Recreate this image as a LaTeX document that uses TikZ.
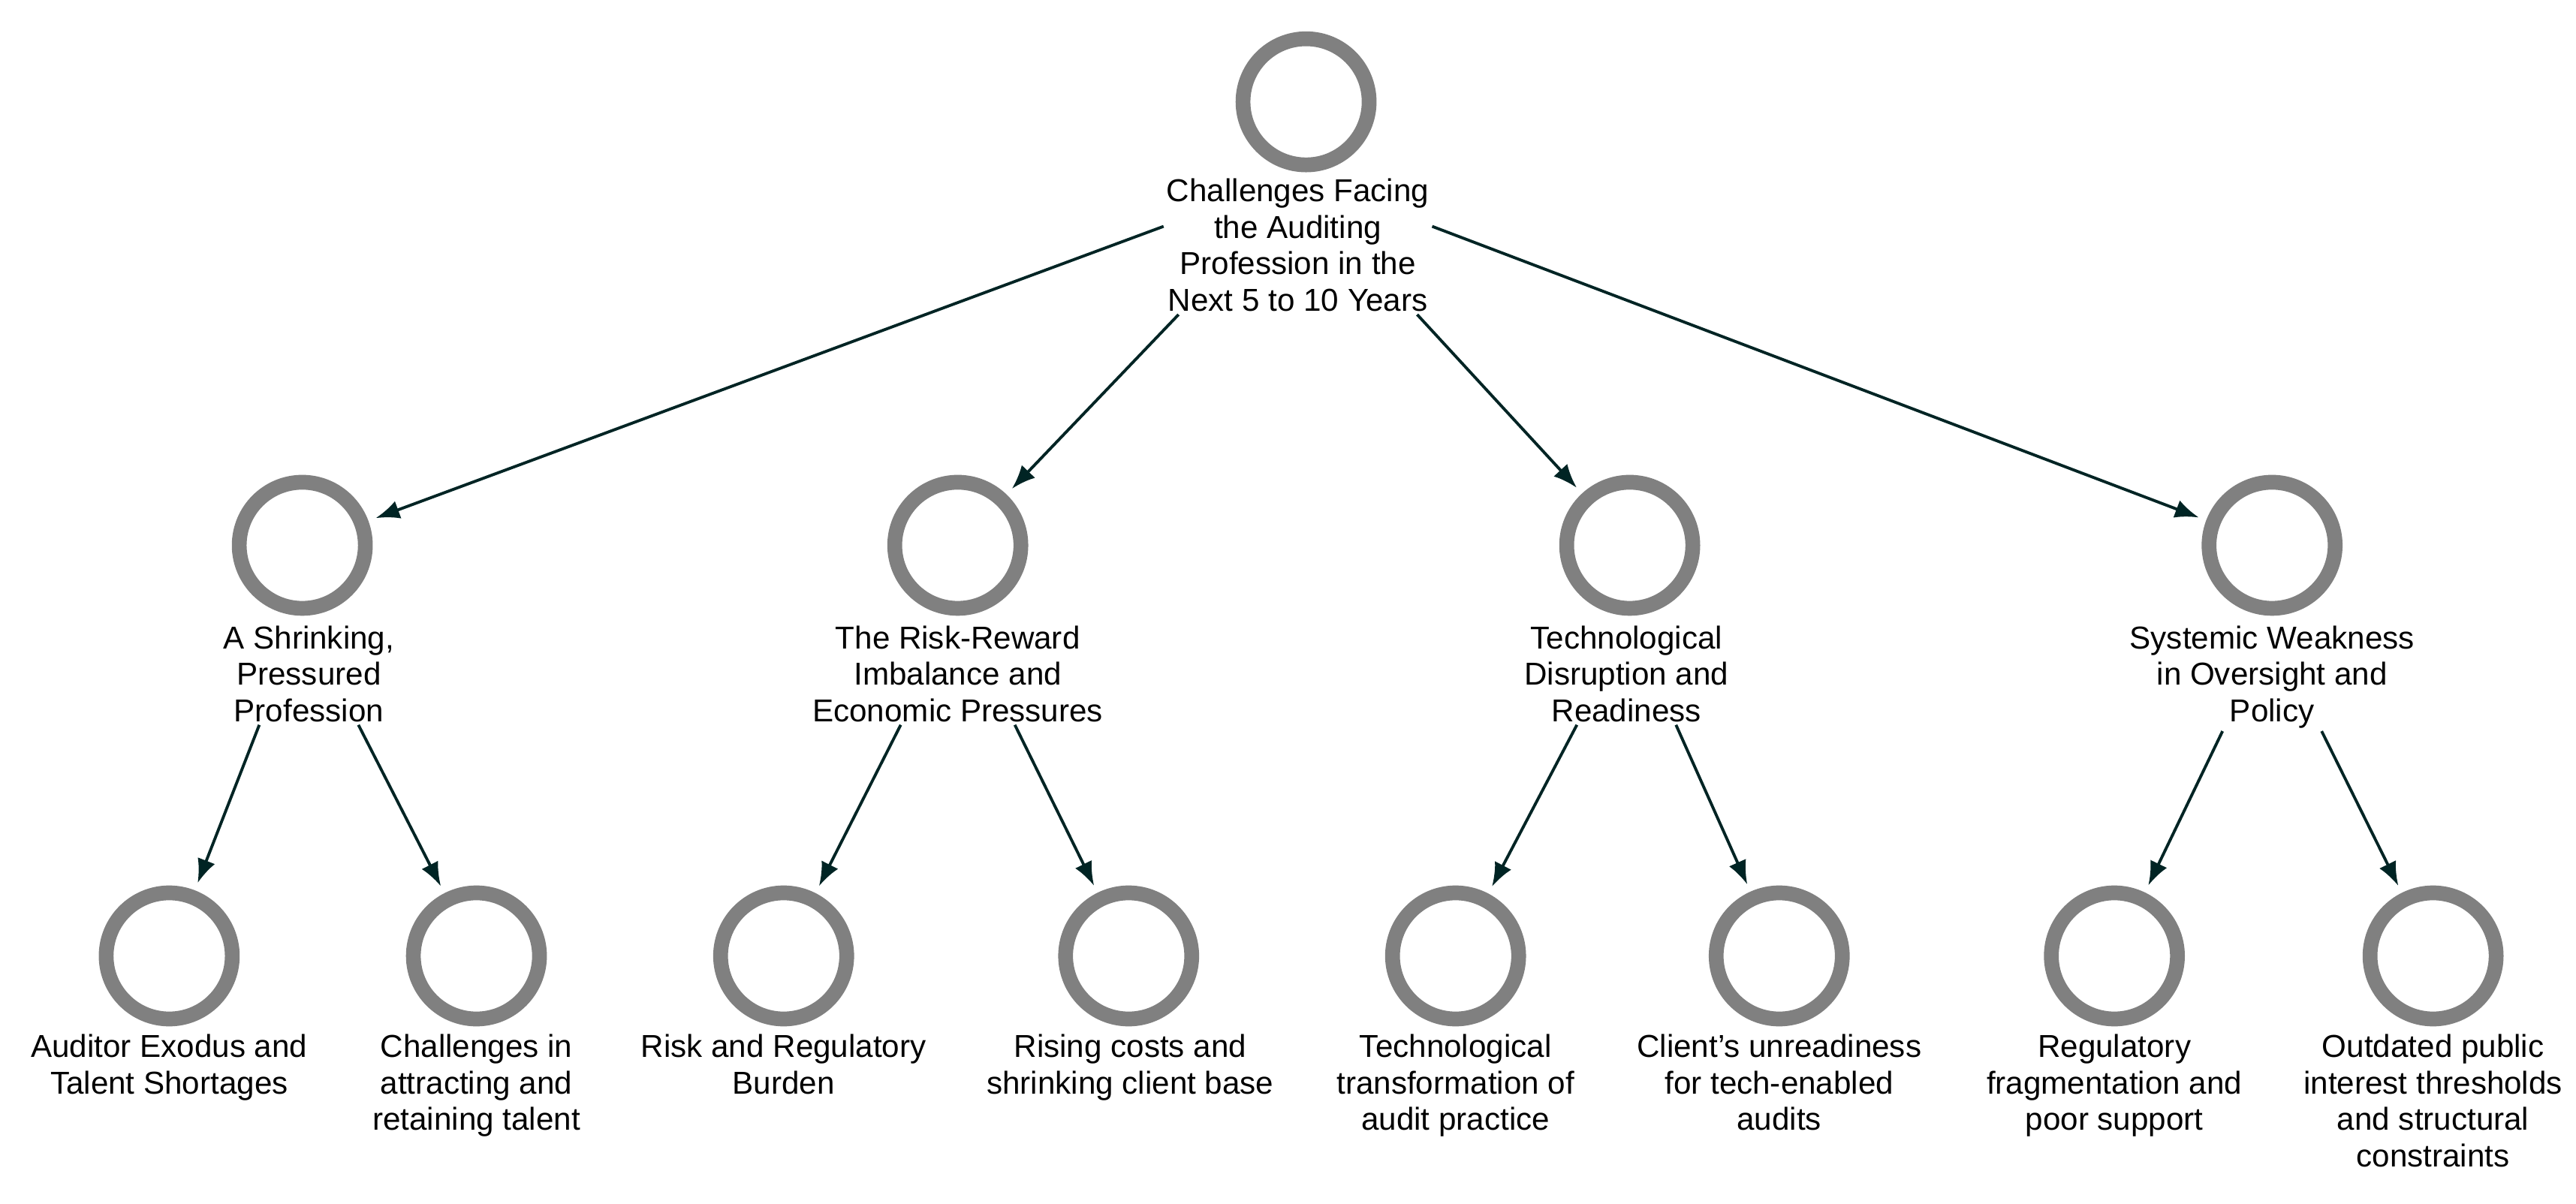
\documentclass[tikz,border=0pt]{standalone}
\usepackage{fontspec}
\setmainfont{Liberation Sans}
\usetikzlibrary{arrows.meta,calc}
\begin{document}
\begin{tikzpicture}[x=0.02188cm,y=-0.02188cm,
  ring/.style={circle,draw=black!50,line width=0.197cm,minimum size=1.68cm,inner sep=0pt},
  lbl/.style={align=center,anchor=north,inner sep=1pt,font=\fontsize{12}{13.8}\selectfont},
  arr/.style={draw=black!60!teal!70!black,color=black!60!teal!70!black,line width=1.1pt,-{Latex[length=9pt,width=7pt]},shorten >=3pt}]
\useasboundingbox (0,0) rectangle (1568,733);
\node[ring] (r) at (795,62) {};
\node[lbl] (rt) at (790,107) {Challenges Facing\\the Auditing\\Profession in the\\Next 5 to 10 Years};

\node[ring] (a) at (184,332) {};
\node[lbl] (at) at (188,379) {A Shrinking,\\Pressured\\Profession};
\node[ring] (b) at (583,332) {};
\node[lbl] (bt) at (583,379) {The Risk-Reward\\Imbalance and\\Economic Pressures};
\node[ring] (c) at (992,332) {};
\node[lbl] (ct) at (990,379) {Technological\\Disruption and\\Readiness};
\node[ring] (d) at (1383,332) {};
\node[lbl] (dt) at (1383,379) {Systemic Weakness\\in Oversight and\\Policy};

\node[ring] (a1) at (103,582) {};
\node[lbl] (a1t) at (103,628) {Auditor Exodus and\\Talent Shortages};
\node[ring] (a2) at (290,582) {};
\node[lbl] (a2t) at (290,628) {Challenges in\\attracting and\\retaining talent};
\node[ring] (b1) at (477,582) {};
\node[lbl] (b1t) at (477,628) {Risk and Regulatory\\Burden};
\node[ring] (b2) at (687,582) {};
\node[lbl] (b2t) at (688,628) {Rising costs and\\shrinking client base};
\node[ring] (c1) at (886,582) {};
\node[lbl] (c1t) at (886,628) {Technological\\transformation of\\audit practice};
\node[ring] (c2) at (1083,582) {};
\node[lbl] (c2t) at (1083,628) {Client's unreadiness\\for tech-enabled\\audits};
\node[ring] (d1) at (1287,582) {};
\node[lbl] (d1t) at (1287,628) {Regulatory\\fragmentation and\\poor support};
\node[ring] (d2) at (1481,582) {};
\node[lbl] (d2t) at (1481,628) {Outdated public\\interest thresholds\\and structural\\constraints};

\draw[arr] ([yshift=0.25cm]rt.west) -- (a);
\draw[arr] ([xshift=0.2cm]rt.south west) -- (b);
\draw[arr] ([xshift=-0.2cm]rt.south east) -- (c);
\draw[arr] ([yshift=0.25cm]rt.east) -- (d);

\draw[arr] ([xshift=-0.66cm]at.south) -- (a1);
\draw[arr] ([xshift=0.66cm]at.south) -- (a2);
\draw[arr] ([xshift=-0.76cm]bt.south) -- (b1);
\draw[arr] ([xshift=0.76cm]bt.south) -- (b2);
\draw[arr] ([xshift=-0.66cm]ct.south) -- (c1);
\draw[arr] ([xshift=0.66cm]ct.south) -- (c2);
\draw[arr] ([xshift=-0.66cm]dt.south) -- (d1);
\draw[arr] ([xshift=0.66cm]dt.south) -- (d2);
\end{tikzpicture}
\end{document}
